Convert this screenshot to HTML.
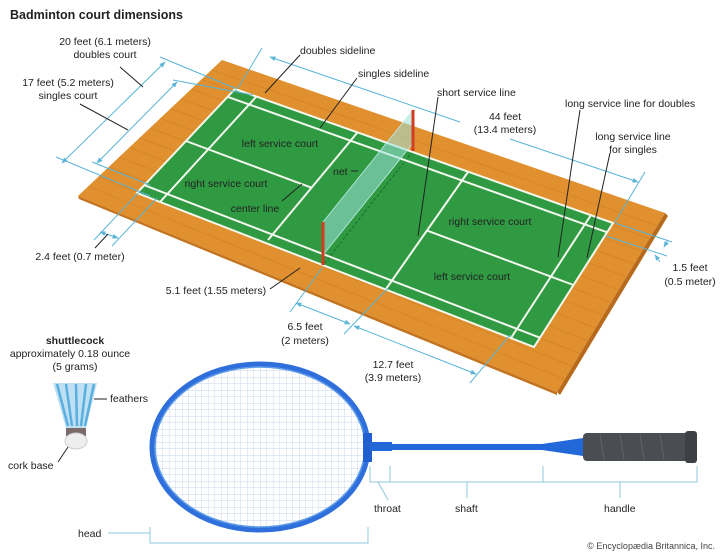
<!DOCTYPE html>
<html><head><meta charset="utf-8">
<style>
html,body{margin:0;padding:0;background:#fff;}
svg{display:block;font-family:"Liberation Sans",Arial,sans-serif;}
text{font-size:10.5px;fill:#222;}
</style></head>
<body>
<svg width="720" height="553" viewBox="0 0 720 553" xmlns="http://www.w3.org/2000/svg">
<defs>
<marker id="ar" viewBox="0 0 10 10" refX="9" refY="5" markerWidth="6" markerHeight="6" orient="auto-start-reverse"><path d="M0,1 L10,5 L0,9 z" fill="#5ab4d6"/></marker>
<pattern id="str" width="6.5" height="6.5" patternUnits="userSpaceOnUse"><path d="M0,0 H6.5 M0,0 V6.5" stroke="#c6d5ea" stroke-width="0.9" fill="none"/></pattern>
</defs>
<text x="10" y="19" style="font-size:12.5px;font-weight:bold;fill:#222">Badminton court dimensions</text>

<!-- floor -->
<polygon points="222,60 665,213 557,392 78,196" fill="#e0902e"/>
<polygon points="665,213 668,216 560,395 557,392" fill="#b86a1c"/>
<polygon points="78,196 557,392 557,395 79,199" fill="#c4741f"/>
<g stroke="#c97a25" stroke-width="0.8" opacity="0.55">
<line x1="88.3" y1="186.3" x2="564.7" y2="379.2"/>
<line x1="98.6" y1="176.6" x2="572.4" y2="366.4"/>
<line x1="108.9" y1="166.9" x2="580.1" y2="353.6"/>
<line x1="119.1" y1="157.1" x2="587.9" y2="340.9"/>
<line x1="129.4" y1="147.4" x2="595.6" y2="328.1"/>
<line x1="139.7" y1="137.7" x2="603.3" y2="315.3"/>
<line x1="150" y1="128" x2="611" y2="302.5"/>
<line x1="160.3" y1="118.3" x2="618.7" y2="289.7"/>
<line x1="170.6" y1="108.6" x2="626.4" y2="276.9"/>
<line x1="180.9" y1="98.9" x2="634.1" y2="264.1"/>
<line x1="191.1" y1="89.1" x2="641.9" y2="251.4"/>
<line x1="201.4" y1="79.4" x2="649.6" y2="238.6"/>
<line x1="211.7" y1="69.7" x2="657.3" y2="225.8"/>
</g>

<!-- court -->
<polygon points="235,89 613,223 534,347 137,193" fill="#2f9a42"/>
<line x1="413" y1="151" x2="323" y2="265" stroke="#1d6d2c" stroke-width="1" stroke-dasharray="3,2"/>
<g stroke="#f4f8ee" stroke-width="2" fill="none">
<polygon points="235,89 613,223 534,347 137,193"/>
<line x1="227.6" y1="96.8" x2="607.1" y2="232.3"/>
<line x1="144.4" y1="185.2" x2="539.9" y2="337.7"/>
<line x1="256" y1="97" x2="160" y2="202"/>
<line x1="591" y1="215" x2="511" y2="338"/>
<line x1="357" y1="133" x2="268" y2="240"/>
<line x1="468" y1="172" x2="386" y2="289"/>
<line x1="186" y1="141" x2="311.5" y2="187.7"/>
<line x1="427" y1="230.6" x2="573.5" y2="285"/>
</g>
<!-- net -->
<polygon points="413,110 323,222 323,255 413,143" fill="#9fe0dc" fill-opacity="0.55" stroke="#bfeeea" stroke-width="0.8"/>
<line x1="413" y1="151" x2="413" y2="110" stroke="#d23c22" stroke-width="3"/>
<line x1="323" y1="265" x2="323" y2="222" stroke="#d23c22" stroke-width="3"/>

<g stroke="#5ab4d6" stroke-width="1" fill="none">
<line x1="62" y1="163" x2="165" y2="62" marker-start="url(#ar)" marker-end="url(#ar)"/>
<line x1="56" y1="157" x2="150" y2="196"/>
<line x1="160" y1="57" x2="237" y2="89"/>
<line x1="97" y1="163" x2="177" y2="82" marker-start="url(#ar)" marker-end="url(#ar)"/>
<line x1="92" y1="162" x2="150" y2="185"/>
<line x1="173" y1="80" x2="253" y2="95"/>
<line x1="270" y1="57" x2="460" y2="122" marker-start="url(#ar)"/>
<line x1="510" y1="139" x2="638" y2="182" marker-end="url(#ar)"/>
<line x1="262" y1="48" x2="238" y2="88"/>
<line x1="645" y1="172" x2="615" y2="222"/>
<line x1="100" y1="232" x2="118" y2="238" marker-start="url(#ar)" marker-end="url(#ar)"/>
<line x1="94" y1="240" x2="138" y2="193"/>
<line x1="112" y1="246" x2="157" y2="198"/>
<line x1="296" y1="303" x2="350" y2="324" marker-start="url(#ar)" marker-end="url(#ar)"/>
<line x1="354" y1="326" x2="476" y2="374" marker-start="url(#ar)" marker-end="url(#ar)"/>
<line x1="290" y1="312" x2="322" y2="268"/>
<line x1="344" y1="334" x2="388" y2="288"/>
<line x1="470" y1="383" x2="510" y2="335"/>
<line x1="668" y1="240" x2="664" y2="247" marker-end="url(#ar)"/>
<line x1="660" y1="262" x2="655" y2="255" marker-end="url(#ar)"/>
<line x1="615" y1="223" x2="672" y2="242"/>
<line x1="606" y1="236" x2="667" y2="256"/>
</g>

<g stroke="#222" stroke-width="1" fill="none">
<line x1="120" y1="67" x2="143" y2="87"/>
<line x1="80" y1="104" x2="128" y2="130"/>
<line x1="95" y1="248" x2="108" y2="234"/>
<line x1="270" y1="289" x2="300" y2="268"/>
<line x1="300" y1="55" x2="265" y2="93"/>
<line x1="357" y1="78" x2="320" y2="128"/>
<line x1="438" y1="97" x2="418" y2="236"/>
<line x1="580" y1="110" x2="558" y2="257"/>
<line x1="610" y1="153" x2="587" y2="258"/>
<line x1="351" y1="171" x2="358" y2="171"/>
<line x1="282" y1="201" x2="302" y2="184"/>
</g>

<text x="105" y="45" text-anchor="middle">20 feet (6.1 meters)</text>
<text x="105" y="58" text-anchor="middle">doubles court</text>
<text x="68" y="86" text-anchor="middle">17 feet (5.2 meters)</text>
<text x="68" y="99" text-anchor="middle">singles court</text>
<text x="80" y="260" text-anchor="middle">2.4 feet (0.7 meter)</text>
<text x="216" y="294" text-anchor="middle">5.1 feet (1.55 meters)</text>
<text x="305" y="330" text-anchor="middle">6.5 feet</text>
<text x="305" y="344" text-anchor="middle">(2 meters)</text>
<text x="393" y="368" text-anchor="middle">12.7 feet</text>
<text x="393" y="381" text-anchor="middle">(3.9 meters)</text>
<text x="300" y="54">doubles sideline</text>
<text x="358" y="77">singles sideline</text>
<text x="437" y="96">short service line</text>
<text x="505" y="120" text-anchor="middle">44 feet</text>
<text x="505" y="133" text-anchor="middle">(13.4 meters)</text>
<text x="565" y="107">long service line for doubles</text>
<text x="633" y="140" text-anchor="middle">long service line</text>
<text x="633" y="153" text-anchor="middle">for singles</text>
<text x="690" y="271" text-anchor="middle">1.5 feet</text>
<text x="690" y="285" text-anchor="middle">(0.5 meter)</text>
<g style="font-size:10px">
<text x="280" y="147" text-anchor="middle">left service court</text>
<text x="226" y="187" text-anchor="middle">right service court</text>
<text x="490" y="225" text-anchor="middle">right service court</text>
<text x="472" y="280" text-anchor="middle">left service court</text>
<text x="333" y="175">net</text>
<text x="255" y="212" text-anchor="middle">center line</text>
</g>

<!-- shuttlecock -->
<text x="75" y="344" text-anchor="middle" style="font-weight:bold">shuttlecock</text>
<text x="70" y="357" text-anchor="middle">approximately 0.18 ounce</text>
<text x="75" y="370" text-anchor="middle">(5 grams)</text>
<path d="M53,383 L97,383 L86,428 L66,428 Z" fill="#bfe0f2"/>
<g stroke="#5aaee0" stroke-width="2.5"><line x1="57" y1="384" x2="68" y2="426"/><line x1="66" y1="384" x2="72" y2="426"/><line x1="76" y1="384" x2="77" y2="426"/><line x1="86" y1="384" x2="81" y2="426"/><line x1="94" y1="384" x2="85" y2="426"/></g>
<path d="M66,428 L86,428 L86,436 L66,436Z" fill="#7a6a6a"/>
<ellipse cx="76" cy="441" rx="11" ry="8" fill="#eee" stroke="#ccc"/>
<line x1="94" y1="399" x2="107" y2="399" stroke="#222"/>
<text x="110" y="402">feathers</text>
<line x1="68" y1="447" x2="58" y2="462" stroke="#222"/>
<text x="8" y="469">cork base</text>

<!-- racket -->
<ellipse cx="260" cy="447" rx="106" ry="81" fill="url(#str)"/>
<ellipse cx="260" cy="447" rx="108" ry="83" fill="none" stroke="#2f6fdc" stroke-width="5"/>
<ellipse cx="260" cy="447" rx="105" ry="80" fill="none" stroke="#5d9be8" stroke-width="1.5"/>
<rect x="363" y="433" width="9" height="29" fill="#1f5fd0"/>
<rect x="370" y="442" width="22" height="9" fill="#2368d8"/>
<rect x="390" y="444" width="153" height="6" fill="#2368d8"/>
<path d="M542,444 L583,438 L583,456 L542,450 Z" fill="#2368d8"/>
<rect x="583" y="433" width="112" height="28" rx="4" fill="#4a4d52"/>
<rect x="685" y="431" width="12" height="32" rx="3" fill="#3d4045"/>
<g stroke="#5f6368" stroke-width="1"><line x1="600" y1="434" x2="604" y2="460"/><line x1="620" y1="434" x2="624" y2="460"/><line x1="640" y1="434" x2="644" y2="460"/><line x1="660" y1="434" x2="664" y2="460"/></g>

<g stroke="#8cc8dc" stroke-width="1" fill="none">
<polyline points="370,466 370,482 697,482 697,466"/>
<line x1="390" y1="466" x2="390" y2="482"/>
<line x1="543" y1="466" x2="543" y2="482"/>
<line x1="467" y1="482" x2="467" y2="498"/>
<line x1="620" y1="482" x2="620" y2="498"/>
<line x1="378" y1="482" x2="388" y2="500"/>
<polyline points="150,527 150,543 368,543 368,527"/>
<line x1="108" y1="533" x2="150" y2="533"/>
</g>
<text x="374" y="512">throat</text>
<text x="455" y="512">shaft</text>
<text x="604" y="512">handle</text>
<text x="78" y="537">head</text>
<text x="715" y="549" text-anchor="end" style="font-size:9px;fill:#444">© Encyclopædia Britannica, Inc.</text>
</svg>
</body></html>
